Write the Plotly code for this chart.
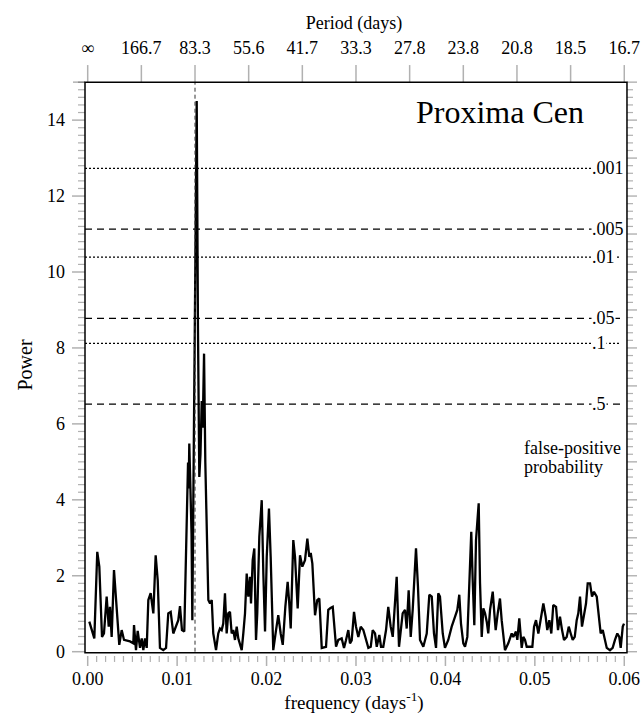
import plotly.graph_objects as go

# ---------------- data ----------------
freq = [
    0.00018, 0.00074, 0.00107, 0.00130, 0.00160, 0.00182, 0.00212, 0.00235, 0.00249, 0.00268,
    0.00294, 0.00324, 0.00353, 0.00380, 0.00406, 0.00473, 0.00510, 0.00518, 0.00540, 0.00559,
    0.00585, 0.00604, 0.00622, 0.00641, 0.00660, 0.00678, 0.00704, 0.00734, 0.00760, 0.00783,
    0.00808, 0.00845, 0.00876, 0.00901, 0.00928, 0.00957, 0.00995, 0.01013, 0.01032, 0.01054,
    0.01080, 0.01107, 0.01122, 0.01129, 0.01136, 0.01152, 0.01161, 0.01170, 0.01181, 0.01194,
    0.01205, 0.01219, 0.01233, 0.01248, 0.01261, 0.01275, 0.01286, 0.01301, 0.01315, 0.01331,
    0.01349, 0.01368, 0.01387, 0.01404, 0.01435, 0.01460, 0.01479, 0.01498, 0.01516, 0.01535,
    0.01554, 0.01572, 0.01591, 0.01610, 0.01628, 0.01647, 0.01666, 0.01684, 0.01722, 0.01740,
    0.01759, 0.01778, 0.01796, 0.01815, 0.01826, 0.01845, 0.01863, 0.01882, 0.01896, 0.01919,
    0.01946, 0.01964, 0.01983, 0.02002, 0.02027, 0.02046, 0.02075, 0.02106, 0.02131, 0.02158,
    0.02181, 0.02210, 0.02236, 0.02254, 0.02270, 0.02299, 0.02318, 0.02348, 0.02374, 0.02400,
    0.02430, 0.02456, 0.02478, 0.02494, 0.02512, 0.02542, 0.02567, 0.02590, 0.02617, 0.02665,
    0.02690, 0.02715, 0.02740, 0.02777, 0.02802, 0.02840, 0.02866, 0.02888, 0.02914, 0.02933,
    0.02952, 0.02978, 0.03000, 0.03026, 0.03053, 0.03082, 0.03112, 0.03138, 0.03165, 0.03187,
    0.03213, 0.03232, 0.03261, 0.03280, 0.03305, 0.03336, 0.03361, 0.03388, 0.03411, 0.03425,
    0.03455, 0.03481, 0.03500, 0.03522, 0.03548, 0.03567, 0.03589, 0.03612, 0.03634, 0.03649,
    0.03671, 0.03693, 0.03716, 0.03753, 0.03791, 0.03820, 0.03847, 0.03872, 0.03895, 0.03920,
    0.03939, 0.03970, 0.03995, 0.04032, 0.04070, 0.04107, 0.04133, 0.04155, 0.04174, 0.04200,
    0.04219, 0.04245, 0.04267, 0.04289, 0.04305, 0.04323, 0.04342, 0.04357, 0.04372, 0.04387,
    0.04406, 0.04424, 0.04443, 0.04462, 0.04479, 0.04499, 0.04529, 0.04547, 0.04562, 0.04585,
    0.04610, 0.04629, 0.04647, 0.04666, 0.04703, 0.04741, 0.04759, 0.04789, 0.04804, 0.04826,
    0.04853, 0.04871, 0.04890, 0.04909, 0.04946, 0.04972, 0.04991, 0.05013, 0.05039, 0.05066,
    0.05095, 0.05121, 0.05139, 0.05162, 0.05184, 0.05206, 0.05237, 0.05259, 0.05281, 0.05304,
    0.05326, 0.05356, 0.05379, 0.05401, 0.05423, 0.05446, 0.05468, 0.05486, 0.05505, 0.05527,
    0.05550, 0.05572, 0.05591, 0.05617, 0.05639, 0.05661, 0.05692, 0.05714, 0.05736, 0.05759,
    0.05777, 0.05804, 0.05840, 0.05870, 0.05896, 0.05922, 0.05944, 0.05960, 0.05983, 0.05997,
]
power = [
    0.79, 0.35, 2.63, 2.24, 0.39, 0.48, 1.45, 0.66, 1.18, 0.39,
    2.15, 1.18, 0.18, 0.57, 0.31, 0.27, 0.22, 0.70, 0.04, 0.55,
    0.10, 0.35, 0.04, 0.35, 0.10, 1.36, 1.54, 1.01, 2.54, 1.88,
    0.10, 0.04, 0.10, 1.01, 1.05, 0.48, 0.74, 0.83, 1.20, 0.57,
    0.53, 3.47, 4.98, 4.30, 5.48, 3.99, 3.10, 0.83, 3.47, 7.50,
    10.90, 14.50, 8.50, 4.60, 5.20, 6.60, 5.90, 7.85, 5.00, 3.10,
    1.36, 1.27, 1.36, 0.48, 0.04, 0.48, 0.61, 0.57, 0.74, 1.54,
    0.48, 1.01, 1.05, 0.48, 0.57, 0.31, 0.66, 0.35, 0.04, 0.48,
    1.01, 2.06, 1.45, 1.97, 1.27, 2.41, 2.72, 0.31, 1.01, 3.03,
    3.99, 2.06, 0.53, 2.50, 3.77, 2.50, 0.04, 0.57, 0.96, 0.48,
    0.18, 1.18, 1.84, 1.27, 0.61, 2.94, 2.50, 1.14, 2.54, 2.24,
    2.41, 2.98, 2.50, 2.60, 2.32, 0.96, 1.36, 1.40, 0.10, 0.13,
    1.10, 1.15, 1.18, 0.13, 0.31, 0.35, 0.10, 0.30, 0.57, 0.22,
    0.30, 1.05, 0.66, 0.39, 0.66, 0.57, 0.31, 0.10, 0.13, 0.57,
    0.48, 0.13, 0.44, 0.13, 0.13, 0.57, 1.18, 0.66, 0.39, 1.01,
    1.97, 0.13, 0.48, 1.01, 1.10, 0.61, 1.62, 0.39, 1.10, 1.80,
    2.72, 1.71, 0.31, 0.13, 0.48, 1.50, 1.45, 0.48, 0.10, 1.54,
    1.45, 0.48, 0.10, 0.31, 0.66, 0.92, 1.10, 1.50, 0.74, 0.22,
    0.13, 0.39, 1.62, 3.16, 1.88, 0.70, 2.94, 3.47, 3.91, 1.80,
    0.39, 1.14, 1.01, 0.79, 0.48, 1.10, 1.58, 1.01, 0.57, 1.01,
    1.40, 0.83, 0.48, 0.04, 0.22, 0.48, 0.39, 0.53, 0.31, 0.88,
    0.10, 0.39, 0.31, 0.13, 0.13, 0.13, 0.66, 0.83, 0.48, 0.83,
    1.27, 0.92, 0.57, 0.83, 0.48, 1.23, 1.18, 0.57, 0.92, 0.57,
    0.31, 0.39, 0.66, 0.48, 0.31, 0.39, 0.83, 1.01, 1.45, 0.66,
    1.01, 1.27, 1.80, 1.80, 1.45, 1.58, 1.45, 0.92, 0.48, 0.57,
    0.37, 0.10, 0.04, 0.10, 0.31, 0.48, 0.39, 0.10, 0.66, 0.74,
]

fap_labels = [".001", ".005", ".01", ".05", ".1", ".5"]
fap_power = [12.73, 11.13, 10.39, 8.78, 8.12, 6.52]

peak_freq = 0.012  # 83.3-day signal

top_tick_freq = [0.0, 0.006, 0.012, 0.018, 0.024, 0.030, 0.036, 0.042, 0.048, 0.054, 0.060]
top_tick_text = ["∞", "166.7", "83.3", "55.6", "41.7", "33.3", "27.8", "23.8", "20.8", "18.5", "16.7"]

# tick positions of the frame (axis decoration)
bottom_major = [i / 100 for i in range(7)]
bottom_minor = [i / 1000 for i in range(61) if i % 10]
left_major = [float(v) for v in range(0, 15, 2)]
left_minor = [i / 5 for i in range(76) if i % 10]
right_major = [float(v) for v in range(0, 16)]
right_minor = [i / 5 for i in range(76) if i % 5]

# ---------------- styling / layout ----------------
SERIF = "Liberation Serif, Times New Roman, serif"
# plotting area includes the tick zones; the frame sits inside it
X_RANGE = [-0.001979, 0.061534]
Y_RANGE = [-0.3766, 15.478]
FRAME_X = [-0.000302, 0.060302]
FRAME_Y = [-0.03, 15.0]
BOTTOM_TICK_START = -0.113
BOTTOM_MAJOR_END, BOTTOM_MINOR_END = -0.40, -0.27
TOP_TICK_END = 15.45
LEFT_MAJOR_END, LEFT_MINOR_END = -0.001756, -0.001085
RIGHT_MAJOR_END, RIGHT_MINOR_END = 0.061422, 0.060975
TOP_LINE_START = -0.001644

fap_dash = ["2px,2px", "7px,5px", "2px,2px", "7px,5px", "2px,2px", "7px,5px"]
LINE_END = 0.0596
LABEL_X = 0.05625

fig = go.Figure()

for lab, pw, dsh in zip(fap_labels, fap_power, fap_dash):
    fig.add_trace(go.Scatter(
        x=[FRAME_X[0], LINE_END], y=[pw, pw], mode="lines",
        line=dict(color="black", width=1.3, dash=dsh),
        hoverinfo="skip", showlegend=False))

# vertical marker at the 83.3 d peak (carries the top period axis)
fig.add_trace(go.Scatter(
    x=[peak_freq, peak_freq], y=[0, FRAME_Y[1]], mode="lines",
    xaxis="x2", yaxis="y",
    line=dict(color="#333333", width=1, dash="4px,3px"),
    hoverinfo="skip", showlegend=False))

fig.add_trace(go.Scatter(
    x=freq, y=power, mode="lines",
    line=dict(color="black", width=2.3),
    showlegend=False, name="Power"))

annotations = []
for lab, pw in zip(fap_labels, fap_power):
    annotations.append(dict(
        x=LABEL_X, y=pw, xref="x", yref="y", text=lab, showarrow=False,
        xanchor="left", yanchor="middle", bgcolor="white", borderpad=0,
        font=dict(family=SERIF, size=18, color="black")))

annotations.append(dict(
    x=0.0557, y=14.21, xref="x", yref="y", text="Proxima Cen", showarrow=False,
    xanchor="right", yanchor="middle",
    font=dict(family=SERIF, size=32, color="black")))
annotations.append(dict(
    x=0.04856, y=5.36, xref="x", yref="y", text="false-positive", showarrow=False,
    xanchor="left", yanchor="middle",
    font=dict(family=SERIF, size=18, color="black")))
annotations.append(dict(
    x=0.04856, y=4.86, xref="x", yref="y", text="probability", showarrow=False,
    xanchor="left", yanchor="middle",
    font=dict(family=SERIF, size=18, color="black")))

# ---- frame and tick marks as shapes in data coordinates ----
def seg(x0, x1, y0, y1, width):
    return dict(type="line", xref="x", yref="y", x0=x0, x1=x1, y0=y0, y1=y1,
                layer="above", line=dict(color="black", width=width))


shapes = [dict(type="rect", xref="x", yref="y",
               x0=FRAME_X[0], x1=FRAME_X[1], y0=FRAME_Y[0], y1=FRAME_Y[1],
               layer="above", fillcolor="rgba(0,0,0,0)", opacity=1,
               line=dict(color="black", width=1.5))]
shapes.append(seg(TOP_LINE_START, FRAME_X[0], FRAME_Y[1], FRAME_Y[1], 1.5))
for v in bottom_major:
    shapes.append(seg(v, v, BOTTOM_TICK_START, BOTTOM_MAJOR_END, 1.5))
for v in bottom_minor:
    shapes.append(seg(v, v, BOTTOM_TICK_START, BOTTOM_MINOR_END, 1.2))
for v in top_tick_freq:
    shapes.append(seg(v, v, FRAME_Y[1], TOP_TICK_END, 1.5))
for v in left_major:
    shapes.append(seg(FRAME_X[0], LEFT_MAJOR_END, v, v, 1.5))
for v in left_minor:
    shapes.append(seg(FRAME_X[0], LEFT_MINOR_END, v, v, 1.2))
for v in right_major:
    shapes.append(seg(FRAME_X[1], RIGHT_MAJOR_END, v, v, 1.4))
for v in right_minor:
    shapes.append(seg(FRAME_X[1], RIGHT_MINOR_END, v, v, 1.2))

axis_common = dict(showgrid=False, zeroline=False, showline=False, automargin=False,
                   ticks="", tickfont=dict(family=SERIF, size=18))

fig.update_layout(
    template="simple_white",
    width=642, height=715,
    margin=dict(l=70, r=4, t=64, b=49, autoexpand=False),
    paper_bgcolor="white", plot_bgcolor="white",
    font=dict(family=SERIF, size=18, color="black"),
    xaxis=dict(
        range=X_RANGE, anchor="y",
        tickmode="array", tickvals=bottom_major, tickformat=".2f",
        ticklabelstandoff=0,
        title=dict(text="frequency (days<sup>-1</sup>)",
                   font=dict(family=SERIF, size=19), standoff=7),
        **axis_common,
    ),
    xaxis2=dict(
        range=X_RANGE, overlaying="x", side="top", anchor="y",
        tickmode="array", tickvals=top_tick_freq, ticktext=top_tick_text,
        ticklabelstandoff=5,
        title=dict(text="Period (days)", font=dict(family=SERIF, size=18), standoff=4),
        **axis_common,
    ),
    yaxis=dict(
        range=Y_RANGE, anchor="x",
        tickmode="array", tickvals=left_major, tickformat="d",
        ticklabelstandoff=4,
        title=dict(text="Power", font=dict(family=SERIF, size=20), standoff=9),
        **axis_common,
    ),
    shapes=shapes,
    annotations=annotations,
)

fig.write_html("out.html")
